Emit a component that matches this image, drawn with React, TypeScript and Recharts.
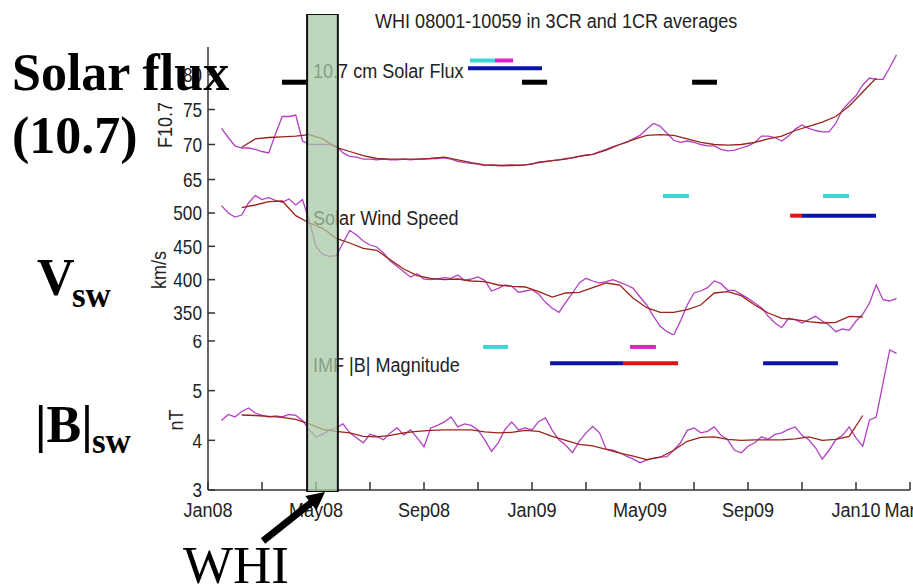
import React from "react";
import { LineChart, Line, XAxis, YAxis, ReferenceLine, ReferenceArea } from "recharts";

// months since Jan 2008; 1CR running averages sampled weekly, 3CR every half month
const weekGrid = [
  0.5, 0.75, 1, 1.25, 1.5, 1.75, 2, 2.25, 2.5, 2.75, 3, 3.25, 3.5, 3.75, 4, 4.25, 4.5, 4.75,
  5, 5.25, 5.5, 5.75, 6, 6.25, 6.5, 6.75, 7, 7.25, 7.5, 7.75, 8, 8.25, 8.5, 8.75, 9, 9.25,
  9.5, 9.75, 10, 10.25, 10.5, 10.75, 11, 11.25, 11.5, 11.75, 12, 12.25, 12.5, 12.75, 13,
  13.25, 13.5, 13.75, 14, 14.25, 14.5, 14.75, 15, 15.25, 15.5, 15.75, 16, 16.25, 16.5, 16.75,
  17, 17.25, 17.5, 17.75, 18, 18.25, 18.5, 18.75, 19, 19.25, 19.5, 19.75, 20, 20.25, 20.5,
  20.75, 21, 21.25, 21.5, 21.75, 22, 22.25, 22.5, 22.75, 23, 23.25, 23.5, 23.75, 24, 24.25,
  24.5, 24.75, 25, 25.25, 25.5,
];
const rotationGrid = [
  1.25, 1.75, 2.25, 2.75, 3.25, 3.75, 4.25, 4.75, 5.25, 5.75, 6.25, 6.75, 7.25, 7.75, 8.25,
  8.75, 9.25, 9.75, 10.25, 10.75, 11.25, 11.75, 12.25, 12.75, 13.25, 13.75, 14.25, 14.75,
  15.25, 15.75, 16.25, 16.75, 17.25, 17.75, 18.25, 18.75, 19.25, 19.75, 20.25, 20.75, 21.25,
  21.75, 22.25, 22.75, 23.25, 23.75, 24.25, 24.75,
];

const flux1CR = [
  72.3, 71.0, 69.8, 69.5, 69.5, 69.3, 69.0, 68.8, 71.5, 74.0, 74.0, 74.2, 70.5, 70.0,
  70.0, 70.0, 70.0, 69.8, 68.8, 68.3, 68.2, 67.9, 67.9, 67.8, 67.9, 67.8, 67.8, 67.9,
  67.8, 67.9, 67.9, 68.0, 68.0, 68.1, 67.9, 67.6, 67.4, 67.3, 67.2, 67.0, 67.1, 67.0,
  67.0, 67.1, 67.0, 67.1, 67.2, 67.5, 67.6, 67.7, 67.8, 68.0, 68.1, 68.3, 68.5, 68.6,
  69.0, 69.3, 69.7, 70.0, 70.3, 70.8, 71.3, 72.2, 73.0, 72.6, 71.6, 70.6, 70.3, 70.5,
  70.3, 70.0, 69.8, 69.8, 69.3, 69.1, 69.2, 69.5, 69.8, 70.3, 71.2, 71.2, 71.0, 70.5,
  71.2, 72.2, 72.8, 72.3, 72.0, 71.8, 71.8, 73.0, 75.0, 76.0, 77.0, 78.5, 79.5, 79.3,
  79.3, 81.0, 82.8,
];
const flux3CR = [
  69.6, 70.8, 71.0, 71.1, 71.2, 71.4, 70.8, 69.6, 69.0, 68.4, 68.0, 67.9, 67.9, 67.9,
  68.0, 68.2, 67.8, 67.4, 67.1, 67.0, 67.0, 67.1, 67.4, 67.7, 67.9, 68.3, 68.6, 69.2,
  70.0, 70.7, 71.3, 71.4, 71.3, 70.8, 70.3, 70.0, 69.9, 70.0, 70.3, 70.8, 71.2, 72.0,
  72.6, 73.2, 74.0, 75.5, 77.5, 79.5,
];

const wind1CR = [
  511, 500, 494, 497, 515, 526, 520, 523, 519, 516, 521, 512, 520, 488, 450, 438, 435,
  436, 455, 474, 467, 458, 452, 449, 440, 428, 420, 412, 404, 409, 401, 400, 401, 403,
  402, 407, 399, 401, 404, 399, 383, 387, 392, 390, 381, 383, 385, 378, 366, 357, 351,
  366, 380, 395, 402, 398, 395, 397, 400, 396, 392, 387, 374, 362, 345, 330, 322, 317,
  338, 362, 380, 383, 388, 398, 394, 384, 384, 378, 372, 365, 358, 345, 335, 328, 342,
  340, 335, 340, 345, 338, 332, 322, 326, 324, 338, 348, 365, 392, 370, 368, 372,
];
const wind3CR = [
  508, 512, 517, 518, 496, 485, 477, 462, 455, 447, 444, 430, 416, 406, 402, 400, 401,
  398, 397, 392, 390, 389, 382, 374, 380, 381, 388, 395, 392, 372, 358, 351, 351, 355,
  362, 380, 382, 376, 362, 350, 342, 340, 337, 335, 336, 345, 344, null,
];

const imf1CR = [
  4.4, 4.52, 4.47, 4.58, 4.65, 4.55, 4.5, 4.47, 4.49, 4.47, 4.52, 4.5, 4.4, 4.21, 4.07,
  4.12, 4.21, 4.25, 4.33, 4.15, 4.05, 3.95, 4.12, 4.08, 4.01, 4.15, 4.25, 4.11, 4.21,
  4.05, 3.87, 4.25, 4.3, 4.37, 4.47, 4.27, 4.33, 4.3, 4.21, 4.01, 3.78, 3.95, 4.22, 4.37,
  4.21, 4.25, 4.21, 4.38, 4.45, 4.2, 4.01, 3.9, 3.75, 3.98, 4.15, 4.28, 4.15, 3.82, 3.8,
  3.75, 3.68, 3.62, 3.55, 3.6, 3.64, 3.66, 3.67, 3.8, 3.95, 4.2, 4.25, 4.15, 4.18, 4.27,
  4.1, 4.01, 3.8, 3.75, 3.88, 3.95, 4.07, 4.02, 4.12, 4.15, 4.22, 4.27, 4.1, 4.01, 3.85,
  3.62, 3.8, 4.01, 4.1, 4.27, 4.05, 3.88, 4.41, 4.47, 5.15, 5.82, 5.75,
];
const imf3CR = [
  4.51, 4.5, 4.48, 4.46, 4.42, 4.33, 4.22, 4.18, 4.15, 4.08, 4.07, 4.1, 4.15, 4.18, 4.2,
  4.21, 4.21, 4.21, 4.17, 4.15, 4.16, 4.2, 4.18, 4.08, 4.0, 3.92, 3.89, 3.82, 3.74, 3.68,
  3.61, 3.66, 3.8, 3.98, 4.06, 4.07, 4.02, 4.0, 4.01, 4.01, 4.01, 4.03, 4.07, 4.0, 4.02,
  4.08, 4.5, null,
];

// interval markers above each panel's curves
const fluxBars = [
  { from: 2.74, to: 3.67, level: 78.9, kind: "black" },
  { from: 11.63, to: 12.56, level: 78.9, kind: "black" },
  { from: 17.93, to: 18.85, level: 78.9, kind: "black" },
  { from: 9.63, to: 12.37, level: 80.9, kind: "blue" },
  { from: 9.7, to: 10.63, level: 82.0, kind: "cyan" },
  { from: 10.63, to: 11.3, level: 82.0, kind: "magenta" },
];
const windBars = [
  { from: 16.85, to: 17.81, level: 525.5, kind: "cyan" },
  { from: 22.78, to: 23.74, level: 525.5, kind: "cyan" },
  { from: 21.56, to: 22.0, level: 496, kind: "red" },
  { from: 22.0, to: 24.74, level: 496, kind: "blue" },
];
const imfBars = [
  { from: 10.19, to: 11.11, level: 5.88, kind: "cyan" },
  { from: 15.63, to: 16.59, level: 5.88, kind: "magenta" },
  { from: 12.67, to: 15.37, level: 5.55, kind: "blue" },
  { from: 15.37, to: 17.41, level: 5.55, kind: "red" },
  { from: 20.56, to: 23.33, level: 5.55, kind: "blue" },
];

const xTicks = [0, 2, 4, 6, 8, 10, 12, 14, 16, 18, 20, 22, 24, 26];
const xTickLabels = ["Jan08", "", "May08", "", "Sep08", "", "Jan09", "", "May09", "", "Sep09", "", "Jan10", "Mar10"];
const fluxTicks = [65, 70, 75, 80];
const windTicks = [350, 400, 450, 500];
const imfTicks = [3, 4, 5, 6];
const whiSpan = [3.67, 4.81];

const barColors: Record<string, string> = {
  black: "#000000",
  blue: "#0b14a8",
  cyan: "#3ad6d6",
  magenta: "#dd22cc",
  red: "#dd1515",
};
const oneCRColor = "#b440c4";
const threeCRColor = "#9a2418";
const axisColor = "#333333";
const sans = "'Liberation Sans', Arial, sans-serif";
const serif = "'Liberation Serif', 'Times New Roman', serif";
const narrow = 0.86; // horizontal squeeze to mimic the narrow sans of the original

const rows = (times: number[], values: (number | null)[]) =>
  times.map((t, i) => ({ t, v: values[i] }));

function NarrowText({ x, y, rotate = 0, size = 21, anchor = "start", dy, children }: any) {
  const tf = `translate(${x},${y})${rotate ? ` rotate(${rotate})` : ""} scale(${narrow},1)`;
  return (
    <text transform={tf} dy={dy} textAnchor={anchor} fontFamily={sans} fontSize={size} fill="#222">
      {children}
    </text>
  );
}

function YTick(props: any) {
  const { x, y, payload } = props;
  return (
    <g>
      <line x1={x + 5} x2={x + 12} y1={y} y2={y} stroke={axisColor} strokeWidth={1.5} />
      <NarrowText x={x - 1} y={y} dy="0.36em" anchor="end" size={20}>
        {payload.value}
      </NarrowText>
    </g>
  );
}

function XTick(props: any) {
  const { x, y, payload } = props;
  const label = xTickLabels[xTicks.indexOf(payload.value)] || "";
  return (
    <g>
      <line x1={x} x2={x} y1={y} y2={y - 8} stroke={axisColor} strokeWidth={1.5} />
      <NarrowText x={x} y={y + 27} anchor="middle" size={21}>
        {label}
      </NarrowText>
    </g>
  );
}

interface PanelProps {
  top: number;
  height: number;
  domain: [number, number];
  ticks: number[];
  oneCR: (number | null)[];
  threeCR: (number | null)[];
  bars: { from: number; to: number; level: number; kind: string }[];
  showX?: boolean;
}

function Panel({ top, height, domain, ticks, oneCR, threeCR, bars, showX = false }: PanelProps) {
  const xh = showX ? 40 : 0;
  return (
    <div style={{ position: "absolute", left: 0, top }}>
      <LineChart width={913} height={height + xh} margin={{ top: 0, right: 3, bottom: 0, left: 0 }}>
        <XAxis
          type="number"
          dataKey="t"
          domain={[0, 26]}
          ticks={xTicks}
          interval={0}
          hide={!showX}
          height={40}
          tickSize={0}
          tickMargin={0}
          tick={(p: any) => <XTick {...p} />}
          axisLine={{ stroke: axisColor, strokeWidth: 1.5 }}
          allowDataOverflow
        />
        <YAxis
          type="number"
          domain={domain}
          ticks={ticks}
          interval={0}
          width={208}
          tickSize={0}
          tickMargin={5}
          tick={(p: any) => <YTick {...p} />}
          axisLine={{ stroke: axisColor, strokeWidth: 1.5 }}
          allowDataOverflow
        />
        {bars.map((b, i) => (
          <ReferenceLine
            key={i}
            segment={[
              { x: b.from, y: b.level },
              { x: b.to, y: b.level },
            ]}
            stroke={barColors[b.kind]}
            strokeWidth={b.kind === "black" ? 5 : 4}
          />
        ))}
        <Line
          data={rows(weekGrid, oneCR)}
          dataKey="v"
          type="linear"
          dot={false}
          stroke={oneCRColor}
          strokeWidth={1.3}
          isAnimationActive={false}
        />
        <Line
          data={rows(rotationGrid, threeCR)}
          dataKey="v"
          type="linear"
          dot={false}
          stroke={threeCRColor}
          strokeWidth={1.3}
          isAnimationActive={false}
        />
      </LineChart>
    </div>
  );
}

export default function App() {
  return (
    <div style={{ position: "absolute", left: 0, top: 0, width: 913, height: 586, background: "#fff" }}>
      <Panel top={47} height={143} domain={[63.5, 83.93]} ticks={fluxTicks} oneCR={flux1CR} threeCR={flux3CR} bars={fluxBars} />
      <Panel top={190} height={145} domain={[317, 534.5]} ticks={windTicks} oneCR={wind1CR} threeCR={wind3CR} bars={windBars} />
      <Panel top={335} height={155} domain={[3, 6.12]} ticks={imfTicks} oneCR={imf1CR} threeCR={imf3CR} bars={imfBars} showX />

      <svg width={913} height={586} style={{ position: "absolute", left: 0, top: 0 }}>
        <NarrowText x={375} y={28}>WHI 08001-10059 in 3CR and 1CR averages</NarrowText>
        <NarrowText x={313} y={78}>10.7 cm Solar Flux</NarrowText>
        <NarrowText x={313} y={225}>Solar Wind Speed</NarrowText>
        <NarrowText x={313} y={372}>IMF |B| Magnitude</NarrowText>
        <NarrowText x={172} y={125} rotate={-90} anchor="middle">F10.7</NarrowText>
        <NarrowText x={166} y={270} rotate={-90} anchor="middle">km/s</NarrowText>
        <NarrowText x={183} y={420} rotate={-90} anchor="middle">nT</NarrowText>
        <g fontFamily={serif} fill="#000">
          <text x={12} y={90} fontSize={52} fontWeight="bold">Solar flux</text>
          <text x={12} y={153} fontSize={52} fontWeight="bold">(10.7)</text>
          <text x={37} y={295} fontSize={52} fontWeight="bold">V</text>
          <text x={72} y={307} fontSize={35} fontWeight="bold">sw</text>
          <text x={35} y={442} fontSize={52} fontWeight="bold">|B|</text>
          <text x={92} y={453} fontSize={35} fontWeight="bold">sw</text>
          <text x={183} y={583} fontSize={53}>WHI</text>
        </g>
        <line x1={263} y1={541} x2={312} y2={502} stroke="#000" strokeWidth={7} />
        <polygon points="325,492 316.5,510.3 305.3,496.1" fill="#000" />
      </svg>

      <div style={{ position: "absolute", left: 0, top: 14 }}>
        <LineChart width={913} height={478} data={[{ t: 0 }, { t: 26 }]} margin={{ top: 0, right: 3, bottom: 0, left: 208 }}>
          <XAxis type="number" dataKey="t" domain={[0, 26]} hide allowDataOverflow />
          <YAxis type="number" domain={[0, 1]} hide allowDataOverflow />
          <ReferenceArea
            x1={whiSpan[0]}
            x2={whiSpan[1]}
            y1={0}
            y2={1}
            fill="#a8c8a4"
            fillOpacity={0.75}
            stroke="#111"
            strokeWidth={2}
          />
        </LineChart>
      </div>
    </div>
  );
}
